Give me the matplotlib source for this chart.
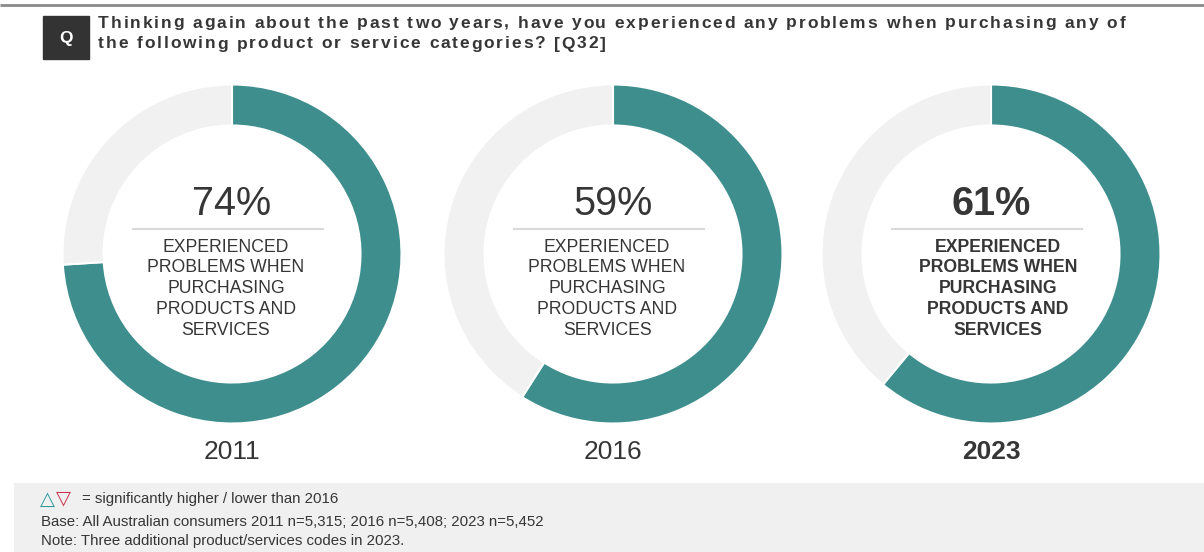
import matplotlib.pyplot as plt
from matplotlib.patches import Rectangle
from matplotlib.font_manager import FontProperties

# Data
years = ['2011', '2016', '2023']
pct = [74, 59, 61]
highlight = [False, False, True]
label_lines = ['EXPERIENCED', 'PROBLEMS WHEN', 'PURCHASING', 'PRODUCTS AND', 'SERVICES']
title_lines = ['Thinking again about the past two years, have you experienced any problems when purchasing any of',
               'the following product or service categories? [Q32]']
foot_lines = ['= significantly higher / lower than 2016',
              'Base: All Australian consumers 2011 n=5,315; 2016 n=5,408; 2023 n=5,452',
              'Note: Three additional product/services codes in 2023.']

plt.rcParams['font.family'] = ['Liberation Sans', 'DejaVu Sans']

W, H = 1204, 552
teal = '#3e8e8e'
ring_grey = '#f1f1f1'
txt = '#363636'

fig = plt.figure(figsize=(W/100, H/100), dpi=100)
renderer = fig.canvas.get_renderer()

# background axes in pixel coords (y down)
bg = fig.add_axes([0, 0, 1, 1])
bg.set_xlim(0, W)
bg.set_ylim(H, 0)
bg.axis('off')

# top rule
bg.plot([0, W], [5, 5], color='#8a8a8a', lw=2, solid_capstyle='butt')

# Q box + title (letter-spaced, drawn glyph by glyph)
bg.add_patch(Rectangle((42.5, 16), 46.5, 43, color='#333333'))
bg.text(65.7, 38, 'Q', color='white', fontsize=12.5, fontweight='bold', ha='center', va='center')

tprop = FontProperties(family='Liberation Sans', weight='bold', size=12.5)
def text_w(s):
    w, h, d = renderer.get_text_width_height_descent(s, tprop, ismath=False)
    return w

x0, x1 = 98, 1125
base_w = text_w(title_lines[0])
spacing = (x1 - x0 - base_w) / (len(title_lines[0]) - 1)
for i, line in enumerate(title_lines):
    for k, ch in enumerate(line):
        if ch == ' ':
            continue
        x = x0 + text_w(line[:k]) + k*spacing if k else x0
        bg.text(x, 27.5 + i*21, ch, fontproperties=tprop, color=txt, ha='left', va='baseline')

# footer
bg.add_patch(Rectangle((14, 483), W-14, H-483, color='#f0f0f0', lw=0))
bg.text(40, 499, '\u25b3', fontsize=14, color='#2f9a9a', ha='left', va='center', family='DejaVu Sans')
bg.text(56, 498, '\u25bd', fontsize=14, color='#c8334d', ha='left', va='center', family='DejaVu Sans')
bg.text(82, 499, foot_lines[0], fontsize=10.8, color=txt, ha='left', va='center')
bg.text(41, 522, foot_lines[1], fontsize=10.8, color=txt, ha='left', va='center')
bg.text(41, 541, foot_lines[2], fontsize=10.8, color=txt, ha='left', va='center')

# donuts
centers = [232, 613, 991]
cy = 254
r = 169.5
ring_w = 41
pad = 4
for cx, v in zip(centers, pct):
    half = r + pad
    ax = fig.add_axes([(cx - half)/W, (H - cy - half)/H, 2*half/W, 2*half/H])
    ax.pie([v, 100 - v], colors=[teal, ring_grey], startangle=90, counterclock=False,
           radius=1, wedgeprops=dict(width=ring_w/r, edgecolor='white', linewidth=1.5))
    lim = half/r
    ax.set_xlim(-lim, lim)
    ax.set_ylim(-lim, lim)
    ax.axis('off')

# overlay text
ov = fig.add_axes([0, 0, 1, 1], facecolor='none')
ov.set_xlim(0, W)
ov.set_ylim(H, 0)
ov.axis('off')
for cx, v, yr, hl in zip(centers, pct, years, highlight):
    fw = 'bold' if hl else 'normal'
    ov.text(cx, 204, f'{v}%', fontsize=28.5, fontweight=fw, color=txt, ha='center', va='center')
    ov.plot([cx - 99, cx + 91], [229, 229], color='#d9d9d9', lw=1.5)
    for j, line in enumerate(label_lines):
        ov.text(cx - 6 if not hl else cx + 7, 247 + j*20.8, line, fontsize=12.7, fontweight=fw,
                color=txt, ha='center', va='center')
    ov.text(cx, 452, yr, fontsize=19, fontweight=fw, color=txt, ha='center', va='center')

fig.savefig('out.png', dpi=100)
